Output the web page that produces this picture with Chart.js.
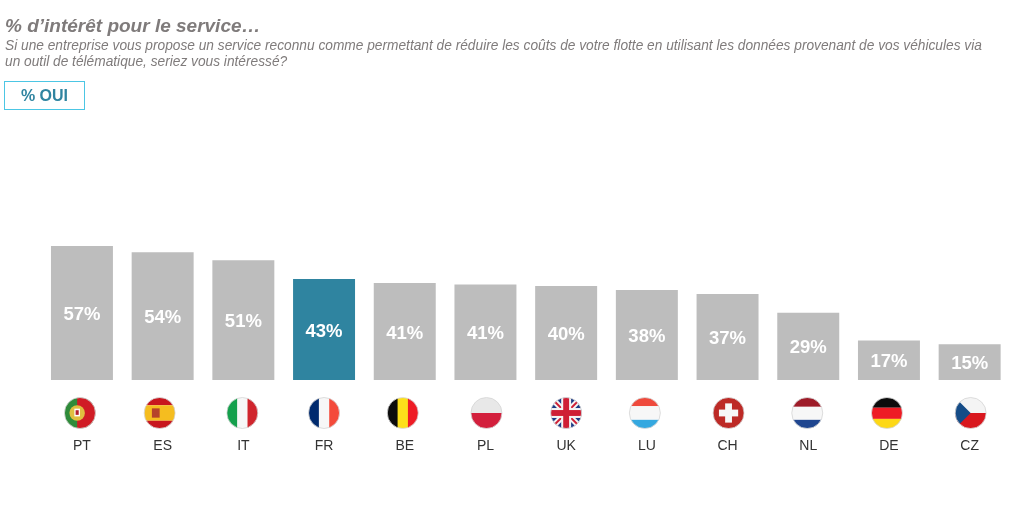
<!DOCTYPE html>
<html lang="fr">
<head>
<meta charset="utf-8">
<title>% d'intérêt pour le service</title>
<script src="https://cdn.jsdelivr.net/npm/chart.js@4/dist/chart.umd.min.js"></script>
<style>
  html, body { margin: 0; padding: 0; background: #fff; }
  body { width: 1024px; height: 512px; position: relative; overflow: hidden; font-family: "Liberation Sans", Arial, sans-serif; }
  #chartBox { position: absolute; left: 0; top: 0; width: 1024px; height: 512px; }
  #title { position: absolute; left: 5px; top: 15px; font-size: 19px; line-height: 22px; font-weight: bold; font-style: italic; color: #7f7b7b; white-space: nowrap; }
  .sub { position: absolute; left: 5px; font-size: 13.73px; line-height: 16px; font-style: italic; color: #7f7b7b; white-space: nowrap; }
  #oui { position: absolute; left: 4px; top: 81px; width: 79px; height: 27px; border: 1.5px solid #4cc6e4; color: #2f84a0; font-size: 16px; font-weight: bold; line-height: 27px; text-align: center; }
</style>
</head>
<body>
<div id="chartBox"><canvas id="chart"></canvas></div>
<div id="title">% d’intérêt pour le service…</div>
<div class="sub" style="top:38px">Si une entreprise vous propose un service reconnu comme permettant de réduire les coûts de votre flotte en utilisant les données provenant de vos véhicules via</div>
<div class="sub" style="top:54px">un outil de télématique, seriez vous intéressé?</div>
<div id="oui">% OUI</div>

<script>
// DATA
var countries = ["PT", "ES", "IT", "FR", "BE", "PL", "UK", "LU", "CH", "NL", "DE", "CZ"];
var oui = [57, 54.4, 51, 43, 41.3, 40.6, 40, 38.3, 36.6, 28.6, 16.8, 15.2];

// COLORS
var barGray = "#bdbdbd";
var barTeal = "#2f84a0";
var highlight = "FR";

// the flags are not quite centred under the bars in the original
var flagNudge = { PT: -2, ES: -3, IT: -1, FR: 0, BE: -2, PL: 1, UK: 0, LU: -2, CH: 1, NL: -1, DE: -2, CZ: 1 };

// helpers to paint a flag inside the clipped circle
function hBands(ctx, x, y, r, colors, sizes) {
  var top = y - r;
  for (var i = 0; i < colors.length; i++) {
    ctx.fillStyle = colors[i];
    ctx.fillRect(x - r, top, r * 2, sizes[i] * r * 2);
    top += sizes[i] * r * 2;
  }
}
function vBands(ctx, x, y, r, colors) {
  var w = r * 2 / colors.length;
  for (var i = 0; i < colors.length; i++) {
    ctx.fillStyle = colors[i];
    ctx.fillRect(x - r + i * w, y - r, w + 0.5, r * 2);
  }
}

var flags = {
  PT: function (ctx, x, y, r) {
    ctx.fillStyle = "#2f8b3a";
    ctx.fillRect(x - r, y - r, r * 2, r * 2);
    ctx.fillStyle = "#d01c25";
    ctx.fillRect(x - r * 0.18, y - r, r * 1.3, r * 2);
    ctx.fillStyle = "#e0c040";
    ctx.beginPath(); ctx.arc(x - r * 0.18, y, r * 0.5, 0, Math.PI * 2); ctx.fill();
    ctx.fillStyle = "#fff";
    ctx.fillRect(x - r * 0.36, y - r * 0.28, r * 0.36, r * 0.5);
    ctx.fillStyle = "#b5202a";
    ctx.fillRect(x - r * 0.28, y - r * 0.18, r * 0.2, r * 0.3);
  },
  ES: function (ctx, x, y, r) {
    hBands(ctx, x, y, r, ["#c8161e", "#f5bd1f", "#c8161e"], [0.25, 0.5, 0.25]);
    ctx.fillStyle = "#b5432a";
    ctx.fillRect(x - r * 0.5, y - r * 0.3, r * 0.5, r * 0.6);
  },
  IT: function (ctx, x, y, r) { vBands(ctx, x, y, r, ["#14a04c", "#f7f7f7", "#d0252d"]); },
  FR: function (ctx, x, y, r) { vBands(ctx, x, y, r, ["#002a6e", "#f7f7f7", "#f44a3a"]); },
  BE: function (ctx, x, y, r) { vBands(ctx, x, y, r, ["#0c0c0c", "#fde01a", "#ee1c25"]); },
  PL: function (ctx, x, y, r) { hBands(ctx, x, y, r, ["#e8e8e8", "#d31f3c"], [0.5, 0.5]); },
  UK: function (ctx, x, y, r) {
    ctx.fillStyle = "#1c3a85";
    ctx.fillRect(x - r, y - r, r * 2, r * 2);
    ctx.strokeStyle = "#f4f4f4";
    ctx.lineWidth = r * 0.38;
    ctx.beginPath();
    ctx.moveTo(x - r, y - r); ctx.lineTo(x + r, y + r);
    ctx.moveTo(x + r, y - r); ctx.lineTo(x - r, y + r);
    ctx.stroke();
    ctx.strokeStyle = "#cf1f35";
    ctx.lineWidth = r * 0.13;
    ctx.stroke();
    ctx.fillStyle = "#f4f4f4";
    ctx.fillRect(x - r, y - r * 0.32, r * 2, r * 0.64);
    ctx.fillRect(x - r * 0.32, y - r, r * 0.64, r * 2);
    ctx.fillStyle = "#cf1f35";
    ctx.fillRect(x - r, y - r * 0.19, r * 2, r * 0.38);
    ctx.fillRect(x - r * 0.19, y - r, r * 0.38, r * 2);
  },
  LU: function (ctx, x, y, r) { hBands(ctx, x, y, r, ["#ef4a3c", "#f7f7f7", "#34a8e0"], [0.28, 0.44, 0.28]); },
  CH: function (ctx, x, y, r) {
    ctx.fillStyle = "#bd2a26";
    ctx.fillRect(x - r, y - r, r * 2, r * 2);
    ctx.fillStyle = "#f7f7f7";
    ctx.fillRect(x - r * 0.62, y - r * 0.22, r * 1.24, r * 0.44);
    ctx.fillRect(x - r * 0.22, y - r * 0.62, r * 0.44, r * 1.24);
  },
  NL: function (ctx, x, y, r) { hBands(ctx, x, y, r, ["#9e1b28", "#f7f7f7", "#1f4690"], [0.3, 0.42, 0.28]); },
  DE: function (ctx, x, y, r) { hBands(ctx, x, y, r, ["#0c0c0c", "#ee1c25", "#fdd816"], [0.33, 0.36, 0.31]); },
  CZ: function (ctx, x, y, r) {
    hBands(ctx, x, y, r, ["#f4f4f4", "#d9171e"], [0.5, 0.5]);
    ctx.fillStyle = "#154c87";
    ctx.beginPath();
    ctx.moveTo(x - r, y - r);
    ctx.lineTo(x, y);
    ctx.lineTo(x - r, y + r);
    ctx.closePath();
    ctx.fill();
  }
};

// percent labels inside the bars
var barLabels = {
  id: "barLabels",
  afterDatasetsDraw: function (chart) {
    var ctx = chart.ctx;
    var bars = chart.getDatasetMeta(0).data;
    ctx.save();
    ctx.fillStyle = "#fff";
    ctx.font = "bold 18.5px 'Liberation Sans', Arial, sans-serif";
    ctx.textAlign = "center";
    ctx.textBaseline = "middle";
    for (var i = 0; i < bars.length; i++) {
      ctx.fillText(Math.round(oui[i]) + "%", bars[i].x, (bars[i].y + bars[i].base) / 2 + 2);
    }
    ctx.restore();
  }
};

// round flags between the bars and the country codes
var flagIcons = {
  id: "flagIcons",
  afterDraw: function (chart) {
    var ctx = chart.ctx;
    var xs = chart.scales.x;
    var r = 15.5;
    var y = chart.scales.y.getPixelForValue(0) + 33;
    for (var i = 0; i < countries.length; i++) {
      var x = xs.getPixelForValue(i) + flagNudge[countries[i]];
      ctx.save();
      ctx.beginPath();
      ctx.arc(x, y, r, 0, Math.PI * 2);
      ctx.clip();
      flags[countries[i]](ctx, x, y, r);
      ctx.restore();
      ctx.beginPath();
      ctx.arc(x, y, r, 0, Math.PI * 2);
      ctx.strokeStyle = "#d4d4d4";
      ctx.lineWidth = 0.8;
      ctx.stroke();
    }
  }
};

new Chart(document.getElementById("chart"), {
  type: "bar",
  data: {
    labels: countries,
    datasets: [{
      data: oui,
      backgroundColor: countries.map(function (c) { return c === highlight ? barTeal : barGray; }),
      borderWidth: 0,
      barPercentage: 1,
      categoryPercentage: 0.768
    }]
  },
  options: {
    responsive: true,
    maintainAspectRatio: false,
    animation: false,
    layout: { padding: { left: 41.6, right: 14, top: 145, bottom: 0 } },
    plugins: { legend: { display: false }, tooltip: { enabled: false } },
    scales: {
      x: {
        // tick padding would otherwise eat into the plot width
        afterFit: function (scale) {
          scale.height = 132;
          scale.paddingLeft = 0;
          scale.paddingRight = 0;
        },
        grid: { display: false, drawTicks: false },
        border: { display: false },
        ticks: {
          color: "#333",
          font: { family: "'Liberation Sans', Arial, sans-serif", size: 14 },
          padding: 58,
          maxRotation: 0,
          autoSkip: false
        }
      },
      y: { display: false, min: 0, max: 100 }
    }
  },
  plugins: [barLabels, flagIcons]
});
</script>
</body>
</html>
